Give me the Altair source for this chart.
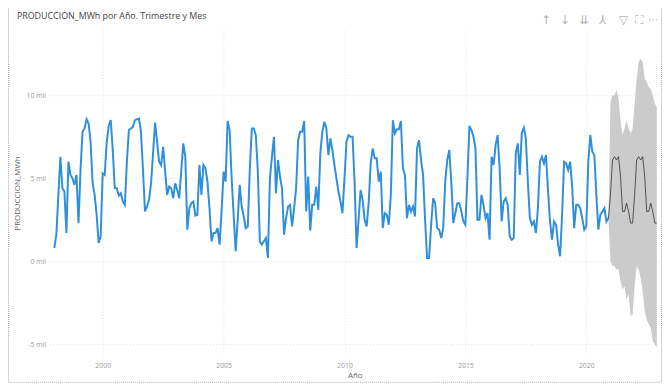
import altair as alt
import pandas as pd

# Monthly production (thousands of MWh), Jan 1998 .. Dec 2020
y1998 = [0.8, 1.6, 4.0, 6.3, 4.4, 4.2, 1.7, 6.0, 5.2, 5.0, 4.6, 5.2]
y1999 = [2.3, 5.5, 7.8, 8.0, 8.55, 8.3, 7.2, 4.7, 4.0, 2.8, 1.1, 1.5]
y2000 = [5.3, 5.2, 7.2, 8.15, 8.5, 6.7, 4.4, 4.4, 3.95, 4.1, 3.6, 3.4]
y2001 = [6.0, 7.9, 8.0, 8.1, 8.5, 8.55, 8.6, 7.8, 5.5, 3.0, 3.3, 3.7]
y2002 = [4.7, 6.5, 8.35, 7.2, 6.0, 5.8, 6.9, 5.4, 4.0, 4.5, 4.4, 3.8]
y2003 = [4.7, 4.3, 3.8, 5.5, 7.1, 6.3, 1.9, 3.2, 3.5, 3.6, 2.75, 2.8]
y2004 = [5.8, 4.0, 5.8, 5.6, 4.8, 3.2, 1.2, 1.7, 1.7, 2.0, 1.0, 3.0]
y2005 = [5.4, 4.8, 8.45, 7.9, 5.0, 2.8, 0.6, 2.5, 4.6, 3.3, 2.7, 2.0]
y2006 = [2.1, 5.5, 8.0, 8.0, 7.6, 5.4, 1.2, 1.0, 1.2, 1.4, 0.2, 5.0]
y2007 = [6.3, 7.5, 4.1, 6.1, 5.1, 4.4, 1.6, 2.6, 3.3, 3.4, 2.1, 3.2]
y2008 = [4.4, 7.3, 7.8, 7.8, 8.45, 3.0, 5.1, 1.85, 3.4, 3.4, 4.5, 3.1]
y2009 = [6.5, 7.8, 8.4, 8.0, 6.4, 7.4, 6.7, 5.8, 5.0, 4.2, 3.6, 2.9]
y2010 = [5.0, 7.2, 7.6, 7.5, 7.5, 4.8, 0.8, 2.5, 4.3, 3.7, 2.5, 2.1]
y2011 = [3.5, 5.9, 6.8, 6.2, 6.2, 4.8, 5.4, 2.0, 2.9, 2.8, 2.2, 4.0]
y2012 = [8.5, 7.7, 7.95, 7.95, 8.45, 5.6, 5.2, 2.6, 3.4, 3.0, 3.3, 2.7]
y2013 = [6.8, 7.3, 6.1, 5.2, 2.5, 0.2, 0.2, 2.2, 3.8, 3.5, 2.0, 1.9]
y2014 = [1.4, 2.0, 4.8, 6.1, 6.7, 4.8, 2.3, 2.9, 3.5, 3.5, 3.0, 2.4]
y2015 = [2.2, 5.0, 8.15, 7.9, 7.5, 6.8, 2.5, 2.5, 4.0, 3.4, 2.6, 2.9]
y2016 = [1.3, 6.3, 5.8, 7.0, 7.6, 5.6, 2.4, 3.6, 3.8, 3.4, 1.5, 1.3]
y2017 = [1.4, 6.5, 7.1, 5.2, 7.75, 8.05, 7.4, 4.8, 2.6, 2.2, 2.4, 1.7]
y2018 = [3.2, 6.0, 6.3, 5.9, 6.4, 4.3, 2.4, 1.3, 2.4, 2.2, 1.0, 0.3]
y2019 = [2.8, 6.0, 5.9, 5.5, 6.0, 4.5, 2.0, 3.4, 3.4, 3.2, 2.6, 1.9]
y2020 = [2.1, 6.0, 7.6, 6.6, 6.4, 4.0, 1.9, 2.8, 3.0, 3.2, 2.4, 2.6]

# Forecast Jan 2021 .. Dec 2022
fc_value = [4.0, 6.1, 6.3, 6.1, 6.3, 5.1, 3.0, 3.0, 3.5, 3.0, 2.3, 2.3,
            4.0, 6.1, 6.3, 6.1, 6.3, 5.1, 3.0, 3.0, 3.5, 3.0, 2.3, 2.3]
fc_upper = [9.6, 10.0, 10.0, 10.3, 9.8, 8.5, 7.6, 8.0, 8.45, 8.0, 7.7, 8.0,
            9.5, 11.0, 12.0, 12.2, 12.0, 11.0, 10.8, 10.5, 10.4, 10.0, 9.5, 9.3]
fc_lower = [0.0, -0.3, -0.3, -0.5, -0.5, -1.2, -1.7, -1.5, -2.3, -2.0, -3.3, -3.2,
            -1.5, -0.3, -0.5, -1.0, -1.8, -3.0, -3.5, -3.8, -4.0, -4.8, -5.0, -5.2]

years = list(range(1998, 2021))
series = [y1998, y1999, y2000, y2001, y2002, y2003, y2004, y2005, y2006, y2007,
          y2008, y2009, y2010, y2011, y2012, y2013, y2014, y2015, y2016, y2017,
          y2018, y2019, y2020]

rows = []
for yr, vals in zip(years, series):
    for i, v in enumerate(vals):
        rows.append({"t": yr + i / 12.0, "v": v})
actual = pd.DataFrame(rows)

last_t = actual["t"].iloc[-1]
last_v = actual["v"].iloc[-1]
frows = [{"t": last_t, "f": last_v, "lo": last_v, "hi": last_v}]
for i in range(len(fc_value)):
    frows.append({"t": 2021 + i / 12.0, "f": fc_value[i], "lo": fc_lower[i], "hi": fc_upper[i]})
fc = pd.DataFrame(frows)

W, H = 618, 330
xdom = [1997.8, 2023.05]
ydom = [-5.71, 13.93]

xs = alt.Scale(domain=xdom, nice=False, zero=False)
ys = alt.Scale(domain=ydom, nice=False, zero=False)

FONT = "Open Sans"

xaxis = alt.Axis(values=[2000, 2005, 2010, 2015, 2020], format="d", title="Año",
                 grid=True, gridColor="#e6e6e6", gridDash=[1, 2], domain=False, ticks=False,
                 labelFont=FONT, labelFontSize=7, labelColor="#9a9a9a", labelPadding=6,
                 titleFont=FONT, titleFontSize=8, titleFontWeight="normal", titleColor="#666666",
                 titlePadding=3)
yaxis = alt.Axis(values=[-5, 0, 5, 10], labelExpr="datum.value + ' mil'", title="PRODUCCION_MWh",
                 grid=True, gridColor="#e0e0e0", gridDash=[1, 2], domain=False, ticks=False,
                 labelFont=FONT, labelFontSize=7, labelColor="#9a9a9a", labelPadding=4,
                 titleFont=FONT, titleFontSize=8, titleFontWeight="normal", titleColor="#666666",
                 titlePadding=5)

band = alt.Chart(fc).mark_area(color="#cbcbcb", opacity=1).encode(
    x=alt.X("t:Q", scale=xs, axis=xaxis),
    y=alt.Y("lo:Q", scale=ys, axis=yaxis),
    y2="hi:Q",
)
line = alt.Chart(actual).mark_line(color="#2f8fdb", strokeWidth=2).encode(
    x=alt.X("t:Q", scale=xs), y=alt.Y("v:Q", scale=ys))
fline = alt.Chart(fc).mark_line(color="#333333", strokeWidth=0.8).encode(
    x=alt.X("t:Q", scale=xs), y=alt.Y("f:Q", scale=ys))

deco = pd.DataFrame({"k": [0]})
title = alt.Chart(deco).mark_text(text="PRODUCCION_MWh por Año. Trimestre y Mes", font=FONT,
                                  fontSize=9, color="#444444", align="left", baseline="middle").encode(
    x=alt.value(-33), y=alt.value(-14))
icon_txt = ["↑", "↓", "⇊", "⅄", "▽", "⛶", "···"]
icon_pos = [503, 522, 541, 560, 581, 597, 611]
icon_size = [12, 12, 12, 12, 12, 12, 10]
icons = alt.layer(*[
    alt.Chart(deco).mark_text(text=s, font="DejaVu Sans", fontSize=fs, color="#b4b4b4",
                              align="center", baseline="middle").encode(
        x=alt.value(p), y=alt.value(-10))
    for s, p, fs in zip(icon_txt, icon_pos, icon_size)
])
border = alt.Chart(deco).mark_rect(fill=None, stroke="#aaaaaa", strokeWidth=1, strokeDash=[1, 1]).encode(
    x=alt.value(-41.5), x2=alt.value(W + 1.5), y=alt.value(-26.5), y2=alt.value(H + 26.5))

chart = alt.layer(band, line, fline, title, icons, border).properties(
    width=W, height=H,
    autosize=alt.AutoSizeParams(type="none"),
    padding={"left": 42, "top": 20, "right": 2, "bottom": 29},
).configure_view(stroke=None)

chart.save("out.html", embed_options={"renderer": "svg", "actions": False})
